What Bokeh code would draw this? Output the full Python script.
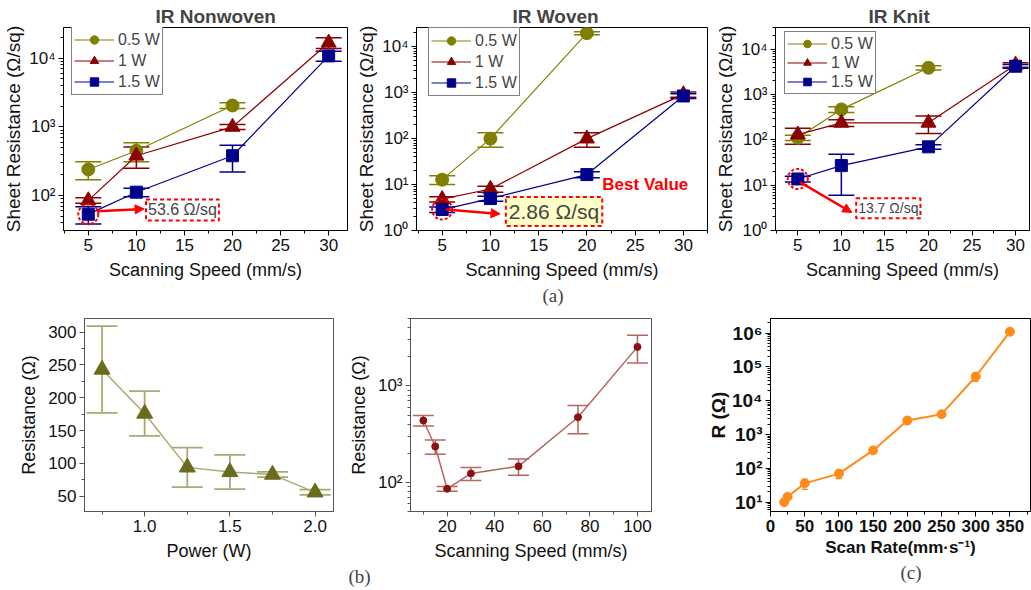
from bokeh.plotting import figure
from bokeh.layouts import column, row
from bokeh.models import (Range1d, Whisker, TeeHead, ColumnDataSource, Legend, LegendItem,
                          Label, Arrow, NormalHead, SingleIntervalTicker, CustomJSTickFormatter,
                          NumeralTickFormatter, Title)
from bokeh.embed import file_html
from bokeh.resources import INLINE

FONT = "Liberation Sans"
SERIF = "Liberation Serif"

# ---------------- data ----------------
top_speed = [5, 10, 20, 30]
top_speed_05 = [5, 10, 20]
power_labels = ["0.5 W", "1 W", "1.5 W"]

nw_05 = [240, 450, 2050]
nw_05_err = [70, 140, 200]
nw_10 = [85, 380, 1000, 16800]
nw_10_err = [8, 130, 80, 3000]
nw_15 = [53.6, 112, 380, 10800]
nw_15_err = [15, 16, 160, 1800]

wv_05 = [12.8, 100, 19800]
wv_05_err = [2.8, 35, 1500]
wv_10 = [4.8, 8.0, 100, 920]
wv_10_err = [0.6, 1.2, 35, 120]
wv_15 = [2.86, 4.96, 16.5, 850]
wv_15_err = [0.4, 0.6, 2.5, 100]

kn_05 = [111, 469, 3880]
kn_05_err = [15, 70, 400]
kn_10 = [130, 237, 237, 4500]
kn_10_err = [50, 40, 100, 500]
kn_15 = [13.7, 27, 70, 4200]
kn_15_err = [2, 21, 8, 400]

power_w = [0.75, 1.0, 1.25, 1.5, 1.75, 2.0]
res_power = [243, 176, 94, 87, 83, 56]
res_power_err = [66, 34, 30, 26, 4, 4]

speed_b = [10, 15, 20, 30, 50, 75, 100]
res_speed = [439, 236, 86, 124, 147, 474, 2540]
res_speed_err = [55, 40, 5, 19, 28, 155, 810]

scan_rate = [20, 25, 50, 100, 150, 200, 250, 300, 350]
res_rate = [10, 14.5, 36, 70, 340, 2600, 4000, 52000, 1.1e6]
res_rate_err = [1, 1.5, 12, 20, 30, 600, 300, 15000, 60000]

best_labels = ["53.6 Ω/sq", "2.86 Ω/sq", "13.7 Ω/sq"]

C05, C10, C15 = "#808000", "#8b0000", "#00008b"

TOP_H = 310
BOT_H = 280


def sup_fmt():
    return CustomJSTickFormatter(code="""
const s = {"0":"\u2070","1":"\u00b9","2":"\u00b2","3":"\u00b3","4":"\u2074","5":"\u2075","6":"\u2076","7":"\u2077","8":"\u2078","9":"\u2079","-":"\u207b"};
const e = Math.round(Math.log10(tick));
return "10" + String(e).split("").map(c => s[c]).join("");
""")


def mkfig(w, h, bl, br, bt, bb, xr, yr, log=False):
    p = figure(width=w, height=h, min_border_left=bl, min_border_right=br,
               min_border_top=bt, min_border_bottom=bb,
               x_range=Range1d(*xr), y_range=Range1d(*yr),
               y_axis_type="log" if log else "linear",
               output_backend="svg", toolbar_location=None)
    p.grid.visible = False
    p.outline_line_color = "black"
    p.outline_line_width = 1
    p.background_fill_color = "white"
    p.border_fill_color = "white"
    return p


def style_axes(p, tick_size, xlabel_size, ylabel_size, color="black", bold=False,
               ystand=2, xstand=6):
    for ax in [p.xaxis[0], p.yaxis[0]]:
        ax.axis_line_color = color
        ax.major_tick_line_color = color
        ax.minor_tick_line_color = color
        ax.major_tick_in = 0
        ax.major_tick_out = 5
        ax.minor_tick_in = 0
        ax.minor_tick_out = 3
        ax.major_label_text_font = FONT
        ax.major_label_text_font_size = tick_size
        ax.major_label_text_color = "#111111"
        ax.major_label_text_font_style = "bold" if bold else "normal"
        ax.axis_label_text_font = FONT
        ax.axis_label_text_color = "#111111"
        ax.axis_label_text_font_style = "bold" if bold else "normal"
        ax.major_label_standoff = 3
    p.xaxis[0].axis_label_text_font_size = xlabel_size
    p.yaxis[0].axis_label_text_font_size = ylabel_size
    p.xaxis[0].axis_label_standoff = xstand
    p.yaxis[0].axis_label_standoff = ystand


def series(p, xs, ys, errs, color, marker, size, cap=26, lw=1.2, elw=1.5, mcolor=None, lcolor=None):
    src = ColumnDataSource(dict(x=xs, y=ys,
                                lo=[y - e for y, e in zip(ys, errs)],
                                hi=[y + e for y, e in zip(ys, errs)]))
    lc = lcolor or color
    mc = mcolor or color
    l = p.line("x", "y", source=src, line_color=lc, line_width=lw)
    w = Whisker(source=src, base="x", upper="hi", lower="lo", dimension="height",
                line_color=lc, line_width=elw,
                upper_head=TeeHead(size=cap, line_color=lc, line_width=elw),
                lower_head=TeeHead(size=cap, line_color=lc, line_width=elw))
    p.add_layout(w)
    s = p.scatter("x", "y", source=src, marker=marker, size=size, fill_color=mc, line_color=mc)
    return [l, s]


def top_panel(w, bl, br, bt, xr, yr, title, title_off, d05, e05, d10, e10, d15, e15,
              legend_loc, gh):
    p = mkfig(w, TOP_H, bl, br, bt, TOP_H - 230, xr, yr, log=True)
    p.xaxis.ticker = SingleIntervalTicker(interval=5, num_minor_ticks=2)
    p.yaxis.formatter = sup_fmt()
    p.xaxis.axis_label = "Scanning Speed (mm/s)"
    p.yaxis.axis_label = "Sheet Resistance (Ω/sq)"
    style_axes(p, "17px", "18px", "19px")
    r05 = series(p, top_speed_05, d05, e05, C05, "circle", 13)
    r10 = series(p, top_speed, d10, e10, C10, "triangle", 15)
    r15 = series(p, top_speed, d15, e15, C15, "square", 12)
    leg = Legend(items=[LegendItem(label=power_labels[0], renderers=r05),
                        LegendItem(label=power_labels[1], renderers=r10),
                        LegendItem(label=power_labels[2], renderers=r15)],
                 location=legend_loc, border_line_color="black", border_line_width=1,
                 label_text_font=FONT, label_text_font_size="16px",
                 glyph_width=40, glyph_height=gh, label_height=gh, spacing=0,
                 padding=2, margin=0, label_standoff=4, background_fill_alpha=1)
    p.add_layout(leg)
    p.title.text = title
    p.title.align = "left"
    p.title.offset = title_off
    p.title.standoff = 1
    p.title.text_font = FONT
    p.title.text_font_style = "bold"
    p.title.text_font_size = "19px"
    # highlight the best (lowest) point
    p.scatter(x=[top_speed[0]], y=[d15[0]], marker="circle", size=20, fill_color=None,
              line_color="red", line_dash="3 2", line_width=2)
    return p


# ---- IR Nonwoven ----
p1 = top_panel(350, 61, 3, 26, (2.42, 31.96), (31, 28000), "IR Nonwoven", 92,
               nw_05, nw_05_err, nw_10, nw_10_err, nw_15, nw_15_err, (8, 135), 21)
p1.add_layout(Arrow(end=NormalHead(size=9, fill_color="red", line_color="red"),
                    x_start=5.9, y_start=59, x_end=10.8, y_end=64,
                    line_color="red", line_width=2.5))
p1.add_layout(Label(x=11.0, y=61.7, text=best_labels[0], text_baseline="middle",
                    text_font=FONT, text_font_size="16px",
                    border_line_color="red", border_line_dash="4 3", border_line_width=2,
                    background_fill_color="white", padding=2))

# ---- IR Woven ----
p2 = top_panel(360, 66, 3, 25, (2.34, 32.5), (1, 26300), "IR Woven", 96,
               wv_05, wv_05_err, wv_10, wv_10_err, wv_15, wv_15_err, (12, 134), 21)
p2.add_layout(Arrow(end=NormalHead(size=9, fill_color="red", line_color="red"),
                    x_start=5.4, y_start=2.86, x_end=11.0, y_end=2.3,
                    line_color="red", line_width=2.5))
p2.add_layout(Label(x=11.6, y=2.59, text=best_labels[1], text_baseline="middle",
                    text_font=FONT, text_font_size="21px",
                    border_line_color="red", border_line_dash="4 3", border_line_width=2,
                    background_fill_color="#ffffc8", padding=3))
p2.add_layout(Label(x=21.6, y=10.2, text="Best Value", text_baseline="middle",
                    text_font=FONT, text_font_size="17px", text_font_style="bold",
                    text_color="red"))
p2.add_layout(Title(text="(a)", align="left", offset=126, standoff=0, text_font=SERIF,
                    text_font_style="normal", text_font_size="19px"), "below")

# ---- IR Knit ----
p3 = top_panel(321, 65, 2, 27, (2.44, 31.6), (1, 30000), "IR Knit", 93,
               kn_05, kn_05_err, kn_10, kn_10_err, kn_15, kn_15_err, (9, 136), 19)
p3.add_layout(Arrow(end=NormalHead(size=9, fill_color="red", line_color="red"),
                    x_start=5.3, y_start=11.5, x_end=11.2, y_end=2.5,
                    line_color="red", line_width=2.5))
p3.add_layout(Label(x=11.7, y=3.1, text=best_labels[2], text_baseline="middle",
                    text_font=FONT, text_font_size="14px",
                    border_line_color="red", border_line_dash="4 3", border_line_width=2,
                    background_fill_color="white", padding=2))

# ---- (b) left: power ----
p4 = mkfig(345, BOT_H, 84, 12, 3, 78, (0.647, 2.108), (26.8, 320.7))
p4.outline_line_color = "#555555"
p4.xaxis.ticker = SingleIntervalTicker(interval=0.5, num_minor_ticks=2)
p4.xaxis.formatter = NumeralTickFormatter(format="0.0")
p4.yaxis.ticker = SingleIntervalTicker(interval=50, num_minor_ticks=2)
p4.xaxis.axis_label = "Power (W)"
p4.yaxis.axis_label = "Resistance (Ω)"
style_axes(p4, "17px", "18px", "18px", color="#555555", ystand=6)
series(p4, power_w, res_power, res_power_err, "#a8aa70", "triangle", 16, cap=31,
       lw=1.5, elw=1.8, mcolor="#6b6b1e")

# ---- (b) right: scanning speed ----
p5 = mkfig(345, BOT_H, 58, 39, 5, 78, (4.6, 105.9), (50, 5000), log=True)
p5.outline_line_color = "#555555"
p5.xaxis.ticker = SingleIntervalTicker(interval=20, num_minor_ticks=2)
p5.yaxis.formatter = sup_fmt()
p5.xaxis.axis_label = "Scanning Speed (mm/s)"
p5.yaxis.axis_label = "Resistance (Ω)"
style_axes(p5, "17px", "18px", "18px", color="#555555", ystand=6)
series(p5, speed_b, res_speed, res_speed_err, "#b4665f", "circle", 7, cap=21,
       lw=1.5, elw=1.5, mcolor="#8b1010")
p5.add_layout(Title(text="(b)", align="left", offset=-62, standoff=0, text_font=SERIF,
                    text_font_style="normal", text_font_size="19px"), "below")

# ---- (c) ----
p6 = mkfig(341, BOT_H, 80, 1, 8, 79, (0, 380), (5.3, 2.7e6), log=True)
p6.xaxis.ticker = SingleIntervalTicker(interval=50, num_minor_ticks=2)
p6.yaxis.formatter = sup_fmt()
p6.xaxis.axis_label = "Scan Rate(mm·s⁻¹)"
p6.yaxis.axis_label = "R (Ω)"
style_axes(p6, "17px", "17px", "19px", bold=True, ystand=0, xstand=3)
p6.yaxis[0].major_label_text_font_size = "19px"
series(p6, scan_rate, res_rate, res_rate_err, "#ff8c1a", "circle", 9, cap=6,
       lw=2, elw=1.2)
p6.add_layout(Title(text="(c)", align="left", offset=130, standoff=0, text_font=SERIF,
                    text_font_style="normal", text_font_size="19px"), "below")

layout = column(row(p1, p2, p3), row(p4, p5, p6))
open("out.html", "w").write(file_html(layout, INLINE))
